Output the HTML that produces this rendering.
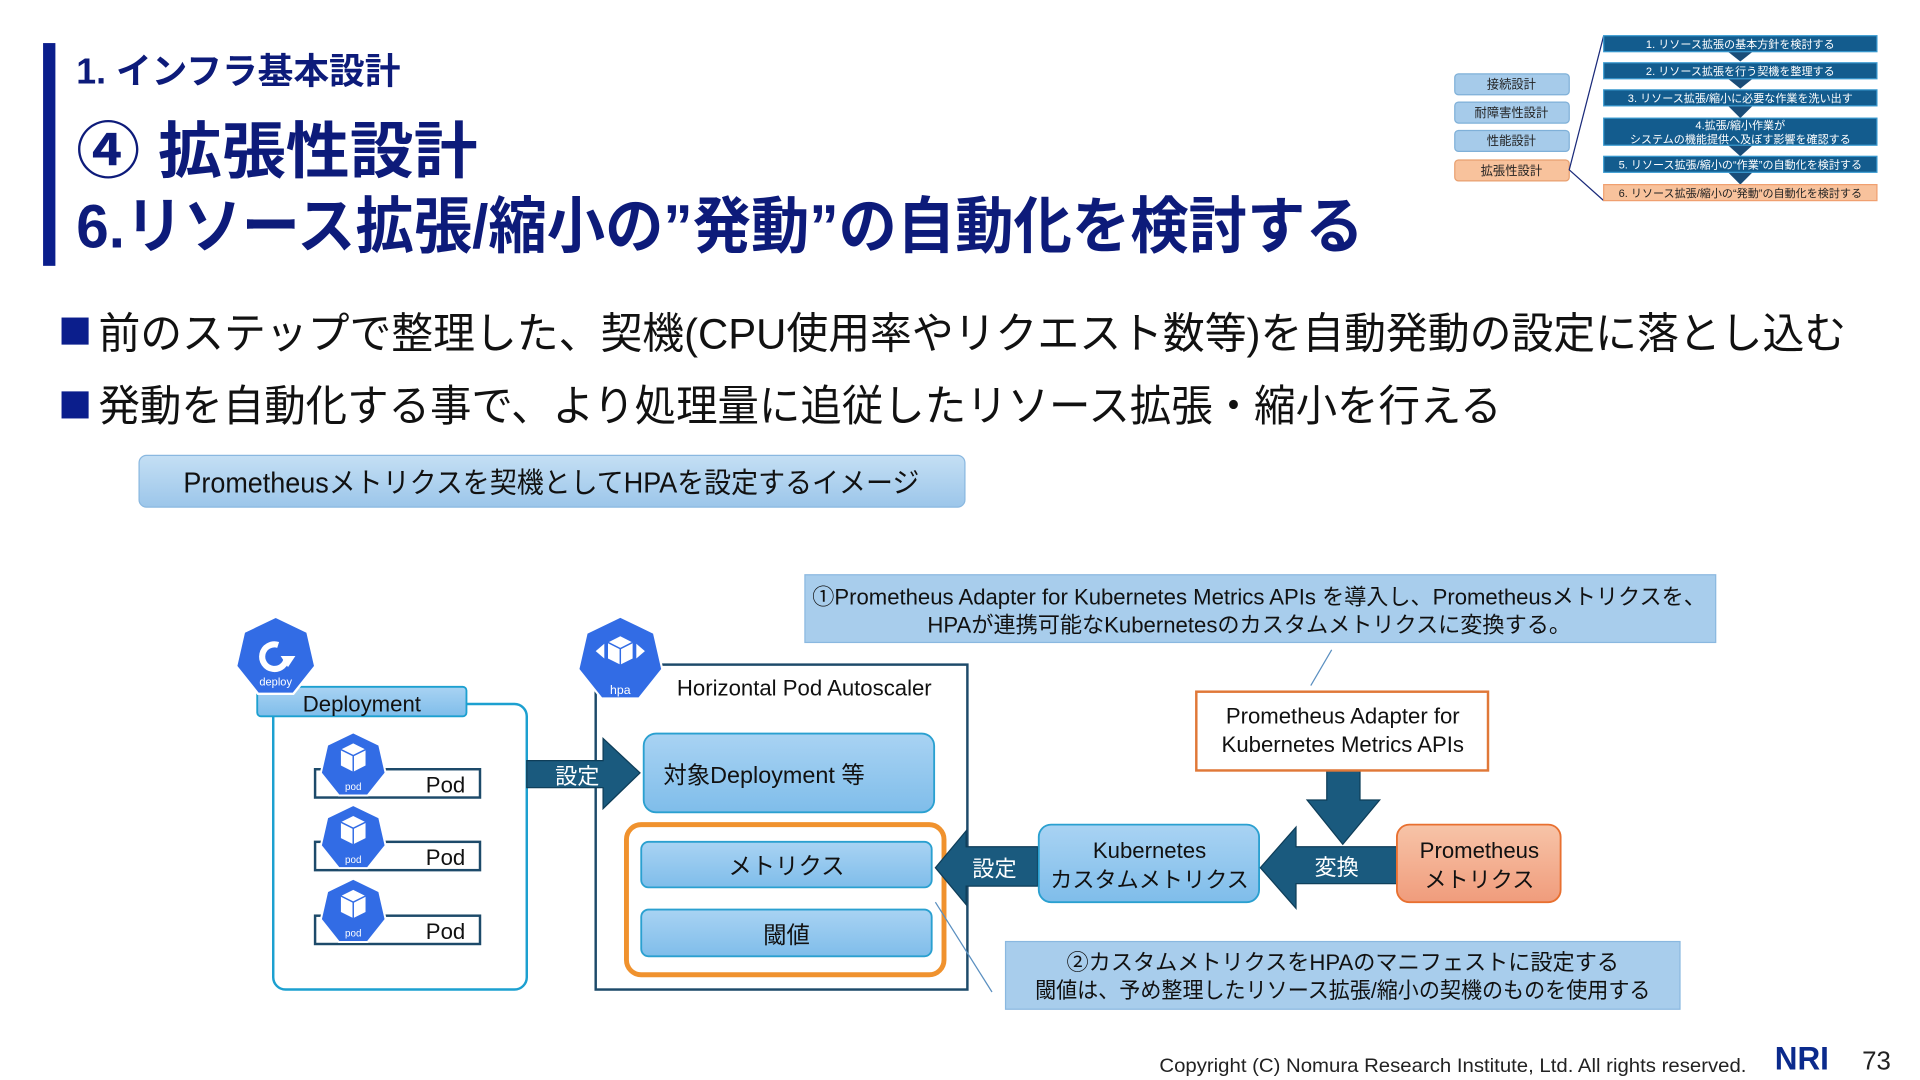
<!DOCTYPE html>
<html><head><meta charset="utf-8"><style>
html,body{margin:0;padding:0;background:#fff;}
svg{display:block;}
text{font-family:"Liberation Sans","Noto Sans CJK JP",sans-serif;}
</style></head><body>
<svg width="1920" height="1080" viewBox="0 0 1560 877.5" xmlns="http://www.w3.org/2000/svg">
<defs>
<linearGradient id="lb" x1="0" y1="0" x2="0" y2="1"><stop offset="0" stop-color="#a9d3f3"/><stop offset="1" stop-color="#7fbdea"/></linearGradient>
<linearGradient id="lb2" x1="0" y1="0" x2="0" y2="1"><stop offset="0" stop-color="#c4dff4"/><stop offset="1" stop-color="#9cc6ea"/></linearGradient>
<linearGradient id="og" x1="0" y1="0" x2="0" y2="1"><stop offset="0" stop-color="#f7c4a8"/><stop offset="1" stop-color="#f09c7c"/></linearGradient>
<path id="hep" d="M0,-1 L.782,-.623 L.975,.223 L.434,.901 L-.434,.901 L-.975,.223 L-.782,-.623Z"/>
</defs>
<rect width="1560" height="878" fill="#fff"/>

<!-- header -->
<rect x="35" y="35" width="10" height="181" fill="#0b1e8c"/>
<text x="62" y="68" font-size="29" font-weight="bold" fill="#0d1b7a">1. インフラ基本設計</text>
<text x="62" y="140" font-size="50" font-weight="bold" fill="#0d1b7a" textLength="326" lengthAdjust="spacingAndGlyphs">④ 拡張性設計</text>
<text x="62" y="201" font-size="50" font-weight="bold" fill="#0d1b7a" textLength="1046" lengthAdjust="spacingAndGlyphs">6.リソース拡張/縮小の”発動”の自動化を検討する</text>

<rect x="50" y="258" width="22" height="22" fill="#0b1e8c"/>
<text x="80" y="283" font-size="35" fill="#111" textLength="1420" lengthAdjust="spacingAndGlyphs">前のステップで整理した、契機(CPU使用率やリクエスト数等)を自動発動の設定に落とし込む</text>
<rect x="50" y="318" width="22" height="22" fill="#0b1e8c"/>
<text x="80" y="342" font-size="35" fill="#111" textLength="1140" lengthAdjust="spacingAndGlyphs">発動を自動化する事で、より処理量に追従したリソース拡張・縮小を行える</text>

<rect x="113" y="370" width="671" height="42" rx="6" fill="url(#lb2)" stroke="#8ab8e0"/>
<text x="448" y="400" font-size="23" fill="#111" text-anchor="middle" textLength="598" lengthAdjust="spacingAndGlyphs">Prometheusメトリクスを契機としてHPAを設定するイメージ</text>

<!-- top right mini -->
<g font-size="10" text-anchor="middle">
<rect x="1182" y="60" width="93" height="17" rx="3" fill="#a6cbea" stroke="#7fb0d8"/><text x="1228" y="72" fill="#222">接続設計</text>
<rect x="1182" y="83" width="93" height="17" rx="3" fill="#a6cbea" stroke="#7fb0d8"/><text x="1228" y="95" fill="#222">耐障害性設計</text>
<rect x="1182" y="106" width="93" height="17" rx="3" fill="#a6cbea" stroke="#7fb0d8"/><text x="1228" y="118" fill="#222">性能設計</text>
<rect x="1182" y="130" width="93" height="17" rx="3" fill="#f8c29c" stroke="#e8a070"/><text x="1228" y="142" fill="#222">拡張性設計</text>
<polyline points="1303,29 1275,138 1303,163" fill="none" stroke="#1a2a7a" stroke-width="1"/>
<g fill="#1a4d78">
<polygon points="1404,42 1424,42 1414,50"/><polygon points="1404,64 1424,64 1414,72"/><polygon points="1404,86 1424,86 1414,96"/><polygon points="1404,118 1424,118 1414,127"/><polygon points="1404,140 1424,140 1414,150"/>
</g>
<g fill="#135c8e" stroke="#3a9ad0">
<rect x="1303" y="29" width="222" height="13"/><rect x="1303" y="51" width="222" height="13"/><rect x="1303" y="73" width="222" height="13"/><rect x="1303" y="96" width="222" height="22"/><rect x="1303" y="127" width="222" height="13"/>
</g>
<rect x="1303" y="150" width="222" height="13" fill="#f8c29c" stroke="#f0a070"/>
<g fill="#fff" font-size="9">
<text x="1414" y="39">1. リソース拡張の基本方針を検討する</text>
<text x="1414" y="61">2. リソース拡張を行う契機を整理する</text>
<text x="1414" y="83">3. リソース拡張/縮小に必要な作業を洗い出す</text>
<text x="1414" y="105">4.拡張/縮小作業が</text>
<text x="1414" y="116">システムの機能提供へ及ぼす影響を確認する</text>
<text x="1414" y="137">5. リソース拡張/縮小の“作業”の自動化を検討する</text>
</g>
<text x="1414" y="160" font-size="9" fill="#222">6. リソース拡張/縮小の“発動”の自動化を検討する</text>
</g>

<!-- Deployment -->
<rect x="222" y="572" width="206" height="232" rx="10" fill="#fff" stroke="#1ca0d0" stroke-width="2"/>
<rect x="209" y="558" width="170" height="24" rx="3" fill="url(#lb)" stroke="#1ca0d0" stroke-width="1.5"/>
<text x="294" y="578" font-size="18" text-anchor="middle" fill="#111">Deployment</text>
<use href="#hep" transform="translate(224,534) scale(33)" fill="#326ce5" stroke="#fff" stroke-width="0.06"/>
<path d="M233,534 A10,10 0 1 1 226,524" fill="none" stroke="#fff" stroke-width="5"/>
<polygon points="228,533 240,533 234,542" fill="#fff"/>
<text x="224" y="557" font-size="9" fill="#fff" text-anchor="middle">deploy</text>

<g id="pods">
<rect x="256" y="625" width="134" height="23" fill="#fff" stroke="#1d4a6a" stroke-width="2"/>
<text x="378" y="644" font-size="18" text-anchor="end" fill="#111">Pod</text>
<use href="#hep" transform="translate(287,622) scale(27)" fill="#326ce5" stroke="#fff" stroke-width="0.06"/>
<polygon points="287,604 297,609 297,622 287,627 277,622 277,609" fill="#fff"/>
<polyline points="277,609 287,614 297,609" fill="none" stroke="#326ce5" stroke-width="1.2"/>
<line x1="287" y1="614" x2="287" y2="627" stroke="#326ce5" stroke-width="1.2"/>
<text x="287" y="642" font-size="8" fill="#fff" text-anchor="middle">pod</text>
</g>
<use href="#pods" transform="translate(0,59)"/>
<use href="#pods" transform="translate(0,119)"/>

<!-- HPA -->
<rect x="484" y="540" width="302" height="264" fill="#fff" stroke="#1d4a6a" stroke-width="2"/>
<text x="550" y="565" font-size="18" fill="#111">Horizontal Pod Autoscaler</text>
<use href="#hep" transform="translate(504,536) scale(35)" fill="#326ce5" stroke="#fff" stroke-width="0.05"/>
<polygon points="504,517 514,522 514,535 504,540 494,535 494,522" fill="#fff"/>
<line x1="504" y1="527" x2="504" y2="540" stroke="#326ce5" stroke-width="1.2"/>
<polyline points="494,522 504,527 514,522" fill="none" stroke="#326ce5" stroke-width="1.2"/>
<polygon points="484,529 491,523 491,535" fill="#fff"/><polygon points="524,529 517,523 517,535" fill="#fff"/>
<text x="504" y="564" font-size="10" fill="#fff" text-anchor="middle">hpa</text>

<!-- arrow 設定 right -->
<polygon points="428,618 490,618 490,600 520,628 490,657 490,640 428,640" fill="#1a5a7e" stroke="#0e3d58"/>
<text x="469" y="637" font-size="18" fill="#fff" text-anchor="middle">設定</text>

<rect x="523" y="596" width="236" height="64" rx="10" fill="url(#lb)" stroke="#2aa0d0" stroke-width="1.5"/>
<text x="539" y="636" font-size="19" fill="#111">対象Deployment 等</text>
<rect x="509" y="670" width="258" height="122" rx="12" fill="none" stroke="#f0922e" stroke-width="4"/>
<rect x="521" y="684" width="236" height="37" rx="6" fill="url(#lb)" stroke="#2aa0d0" stroke-width="1.5"/>
<text x="639" y="710" font-size="19" fill="#111" text-anchor="middle">メトリクス</text>
<rect x="521" y="739" width="236" height="38" rx="6" fill="url(#lb)" stroke="#2aa0d0" stroke-width="1.5"/>
<text x="639" y="766" font-size="19" fill="#111" text-anchor="middle">閾値</text>

<!-- arrow 設定 left -->
<polygon points="843,688 785,688 785,675 760,705 785,735 785,720 843,720" fill="#1a5a7e" stroke="#0e3d58"/>
<text x="808" y="712" font-size="18" fill="#fff" text-anchor="middle">設定</text>

<rect x="844" y="670" width="179" height="63" rx="10" fill="url(#lb)" stroke="#2aa0d0" stroke-width="1.5"/>
<text x="934" y="697" font-size="18" fill="#111" text-anchor="middle">Kubernetes</text>
<text x="934" y="721" font-size="18" fill="#111" text-anchor="middle">カスタムメトリクス</text>

<!-- down arrow -->
<polygon points="1078,626 1105,626 1105,650 1121,650 1091,686 1062,650 1078,650" fill="#1a5a7e" stroke="#0e3d58"/>
<!-- 変換 arrow -->
<polygon points="1135,688 1053,688 1053,672 1024,705 1053,738 1053,718 1135,718" fill="#1a5a7e" stroke="#0e3d58"/>
<text x="1086" y="711" font-size="18" fill="#fff" text-anchor="middle">変換</text>

<rect x="1135" y="670" width="133" height="63" rx="10" fill="url(#og)" stroke="#e87030" stroke-width="1.5"/>
<text x="1202" y="697" font-size="18" fill="#111" text-anchor="middle">Prometheus</text>
<text x="1202" y="721" font-size="18" fill="#111" text-anchor="middle">メトリクス</text>

<rect x="972" y="562" width="237" height="64" fill="#fff" stroke="#e07838" stroke-width="2"/>
<text x="1091" y="588" font-size="18" fill="#111" text-anchor="middle">Prometheus Adapter for</text>
<text x="1091" y="611" font-size="18" fill="#111" text-anchor="middle">Kubernetes Metrics APIs</text>

<!-- callouts -->
<line x1="1082" y1="528" x2="1065" y2="557" stroke="#5a8fc0" stroke-width="1"/>
<rect x="654" y="467" width="740" height="55" fill="#a8cdec" stroke="#8ab8e0"/>
<text x="660" y="491" font-size="18" fill="#111" textLength="726" lengthAdjust="spacingAndGlyphs">①Prometheus Adapter for Kubernetes Metrics APIs を導入し、Prometheusメトリクスを、</text>
<text x="1015" y="514" font-size="18" fill="#111" text-anchor="middle">HPAが連携可能なKubernetesのカスタムメトリクスに変換する。</text>

<line x1="760" y1="733" x2="806" y2="806" stroke="#5a8fc0" stroke-width="1"/>
<rect x="817" y="765" width="548" height="55" fill="#a8cdec" stroke="#8ab8e0"/>
<text x="1091" y="788" font-size="18" fill="#111" text-anchor="middle">②カスタムメトリクスをHPAのマニフェストに設定する</text>
<text x="1091" y="811" font-size="18" fill="#111" text-anchor="middle" textLength="500" lengthAdjust="spacingAndGlyphs">閾値は、予め整理したリソース拡張/縮小の契機のものを使用する</text>

<!-- footer -->
<text x="942" y="871" font-size="16" fill="#222" textLength="477" lengthAdjust="spacingAndGlyphs">Copyright (C)  Nomura Research Institute, Ltd. All rights reserved.</text>
<text x="1442" y="869" font-size="26" font-weight="bold" fill="#0b2a8c" textLength="44" lengthAdjust="spacingAndGlyphs">NRI</text>
<text x="1513" y="869" font-size="21" fill="#222">73</text>
</svg>
</body></html>
